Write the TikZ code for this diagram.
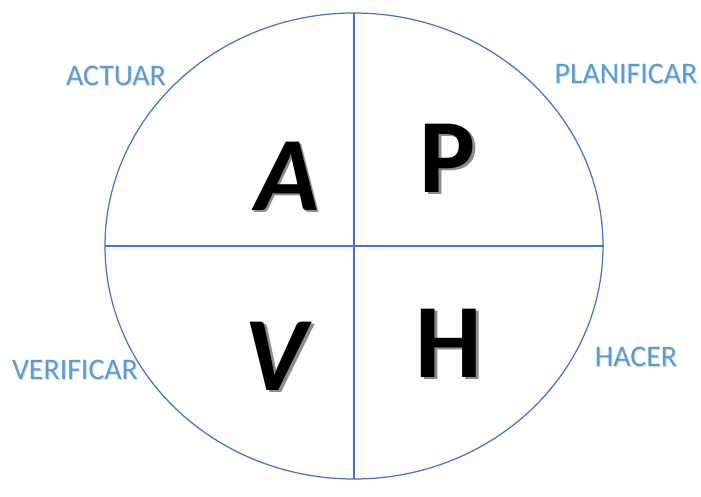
\documentclass[tikz,border=0pt]{standalone}
\usepackage{fontspec}
\setmainfont{Carlito}
\usetikzlibrary{positioning, calc}
\definecolor{cline}{HTML}{4472C4}
\definecolor{clabel}{HTML}{5B9BD5}
\definecolor{cshadow}{HTML}{8C8C8C}
\tikzset{
  every picture/.style={line width=0.7pt},
  quarter/.style={font=\fontsize{60}{60}\selectfont\bfseries, inner sep=0pt},
  quartershadow/.style={quarter, text=cshadow},
  phase/.style={font=\fontsize{17}{17}\selectfont, text=clabel, inner sep=0pt},
  phaseglow/.style={phase, text=clabel!35},
  rim/.style={draw=cline},
}

\begin{document}
\begin{tikzpicture}[x=0.02cm, y=-0.02cm]
  \useasboundingbox (0,0) rectangle (701,497);
  % circle split in four
  \coordinate (mid) at (354,246);
  \coordinate (top) at (354,13);
  \coordinate (bottom) at (354,479);
  \coordinate (left) at (105,246);
  \coordinate (right) at (604,246);
  \draw[rim] (mid) ellipse [x radius=249, y radius=233];
  \draw[rim] (top) -- (bottom);
  \draw[rim] (left) -- (right);
  % letters, with a grey shadow behind
  \node[quartershadow] (sa) at (289.5,178.5) {\itshape A};
  \node[quarter] (a) at (287,176) {\itshape A};
  \node[quartershadow] (sp) at (450.5,160.5) {P};
  \node[quarter] (p) at (448,158) {P};
  \node[quartershadow] (sv) at (278.5,358.5) {\itshape V};
  \node[quarter] (v) at (276,356) {\itshape V};
  \node[quartershadow] (sh) at (451.5,345.5) {H};
  \node[quarter] (h) at (449,343) {H};
  % phase names
  \node[phaseglow] (gact) at (117,77) {ACTUAR};
  \node[phase] (act) at (116,76) {ACTUAR};
  \node[phaseglow] (gplan) at (627,75) {PLANIFICAR};
  \node[phase] (plan) at (626,74) {PLANIFICAR};
  \node[phaseglow] (gver) at (76,371) {VERIFICAR};
  \node[phase] (ver) at (75,370) {VERIFICAR};
  \node[phaseglow] (ghac) at (637,358) {HACER};
  \node[phase] (hac) at (636,357) {HACER};
\end{tikzpicture}
\end{document}
